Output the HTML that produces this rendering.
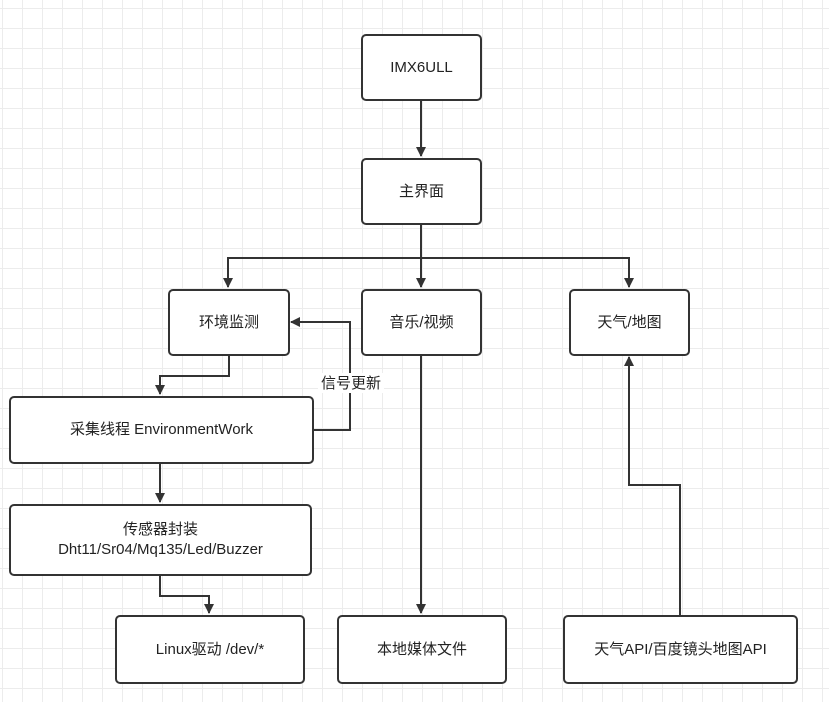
<!DOCTYPE html>
<html><head><meta charset="utf-8"><style>
body{margin:0;width:829px;height:702px;overflow:hidden;background:#fff;
background-image:linear-gradient(#ececec 1px,transparent 1px),linear-gradient(90deg,#ececec 1px,transparent 1px);
background-size:20px 20px;background-position:2px 8px;
font-family:"Liberation Sans","Noto Sans CJK SC",sans-serif;}
.b{position:absolute;border:2px solid #333;border-radius:5px;background:#fff;box-sizing:border-box;display:flex;align-items:center;justify-content:center;text-align:center;font-size:15px;color:#222;line-height:20px}
svg{position:absolute;left:0;top:0}
</style></head><body>
<svg width="829" height="702">
<defs><marker id="a" markerWidth="10" markerHeight="10" refX="9" refY="5" orient="auto" markerUnits="userSpaceOnUse"><path d="M0,0L10,5L0,10z" fill="#333"/></marker></defs>
<g stroke="#333" stroke-width="2" fill="none">
<path d="M421 100V156" marker-end="url(#a)"/>
<path d="M421 224V258H228V287" marker-end="url(#a)"/>
<path d="M421 258V287" marker-end="url(#a)"/>
<path d="M421 258H629V287" marker-end="url(#a)"/>
<path d="M229 355V376H160V394" marker-end="url(#a)"/>
<path d="M313 430H350V322H291" marker-end="url(#a)"/>
<path d="M160 463V502" marker-end="url(#a)"/>
<path d="M160 575V596H209V613" marker-end="url(#a)"/>
<path d="M421 355V613" marker-end="url(#a)"/>
<path d="M680 615V485H629V357" marker-end="url(#a)"/>
</g>
<rect x="318" y="373" width="66" height="20" fill="#fff"/>
<text x="351" y="388" font-size="15" text-anchor="middle" fill="#222" font-family="Liberation Sans,Noto Sans CJK SC,sans-serif">信号更新</text>
</svg>
<div class="b" style="left:361px;top:34px;width:121px;height:67px">IMX6ULL</div>
<div class="b" style="left:361px;top:158px;width:121px;height:67px">主界面</div>
<div class="b" style="left:168px;top:289px;width:122px;height:67px">环境监测</div>
<div class="b" style="left:361px;top:289px;width:121px;height:67px">音乐/视频</div>
<div class="b" style="left:569px;top:289px;width:121px;height:67px">天气/地图</div>
<div class="b" style="left:9px;top:396px;width:305px;height:68px">采集线程 EnvironmentWork</div>
<div class="b" style="left:9px;top:504px;width:303px;height:72px">传感器封装<br>Dht11/Sr04/Mq135/Led/Buzzer</div>
<div class="b" style="left:115px;top:615px;width:190px;height:69px">Linux驱动 /dev/*</div>
<div class="b" style="left:337px;top:615px;width:170px;height:69px">本地媒体文件</div>
<div class="b" style="left:563px;top:615px;width:235px;height:69px">天气API/百度镜头地图API</div>
</body></html>
